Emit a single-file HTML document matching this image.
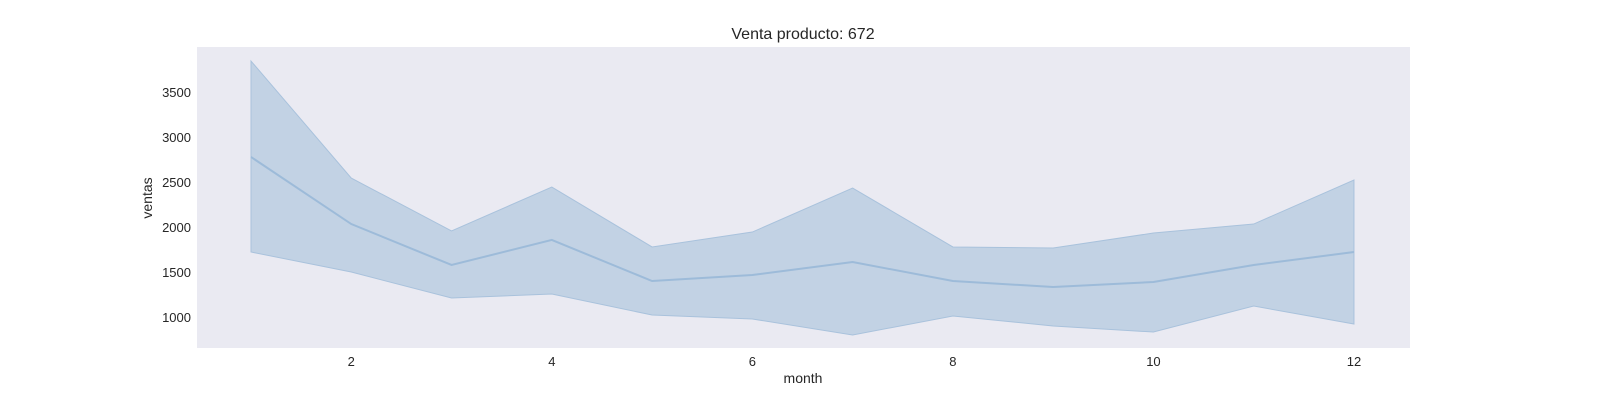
<!DOCTYPE html>
<html><head><meta charset="utf-8"><style>
body{margin:0;background:#fff;}
svg{display:block;font-family:"Liberation Sans",Arial,sans-serif;}
</style></head><body>
<svg id="chart" width="1600" height="400" viewBox="0 0 1600 400">
<rect x="197" y="47" width="1213" height="301" fill="#eaeaf2"/>
<text x="803" y="39" text-anchor="middle" font-size="16" fill="#262626">Venta producto: 672</text>
<text x="803" y="383" text-anchor="middle" font-size="14" fill="#262626">month</text>
<text x="152" y="198" text-anchor="middle" font-size="14" fill="#262626" transform="rotate(-90 152 198)">ventas</text>
<g id="ticks"></g>
<g id="marks"></g>
</svg>
<script>
const months=[1,2,3,4,5,6,7,8,9,10,11,12];
const meanVals=[2778,2033,1578,1856,1400,1467,1611,1400,1333,1389,1578,1722];
const upperVals=[3844,2544,1956,2444,1778,1944,2433,1778,1767,1933,2033,2522];
const lowerVals=[1722,1500,1211,1256,1022,978,800,1011,900,833,1122,922];
const xTicks=[2,4,6,8,10,12];
const yTicks=[1000,1500,2000,2500,3000,3500];
const NS="http://www.w3.org/2000/svg";
const x=m=>251+(m-1)*100.27;
const y=v=>317-(v-1000)*0.09;
const ticks=document.getElementById('ticks'),marks=document.getElementById('marks');
xTicks.forEach(t=>{const e=document.createElementNS(NS,'text');


e.setAttribute('x',x(t));e.setAttribute('y',366);e.setAttribute('text-anchor','middle');e.setAttribute('font-size','13');e.setAttribute('fill','#262626');e.textContent=t;ticks.appendChild(e);});
yTicks.forEach(t=>{const e=document.createElementNS(NS,'text');


e.setAttribute('x',191);e.setAttribute('y',y(t)+5);e.setAttribute('text-anchor','end');e.setAttribute('font-size','13');e.setAttribute('fill','#262626');e.textContent=t;ticks.appendChild(e);});
let pts=months.map((m,i)=>x(m)+','+y(upperVals[i]));
for(let i=months.length-1;i>=0;i--)pts.push(x(months[i])+','+y(lowerVals[i]));
const band=document.createElementNS(NS,'polygon');


band.setAttribute('points',pts.join(' '));band.setAttribute('fill','#c2d2e4');band.setAttribute('stroke','#a9c2dc');band.setAttribute('stroke-width','1');
marks.appendChild(band);
const line=document.createElementNS(NS,'polyline');


line.setAttribute('points',months.map((m,i)=>x(m)+','+y(meanVals[i])).join(' '));
line.setAttribute('fill','none');line.setAttribute('stroke','#9dbbd9');line.setAttribute('stroke-width','2');
marks.appendChild(line);
</script>
</body></html>
